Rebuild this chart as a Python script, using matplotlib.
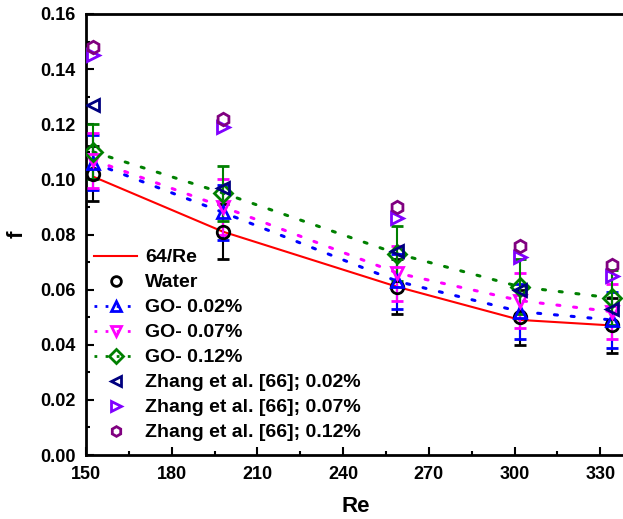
import numpy as np
import matplotlib
matplotlib.use("Agg")
import matplotlib.pyplot as plt
from matplotlib.lines import Line2D
from matplotlib.ticker import MultipleLocator

re_vals = [152.5, 198, 259, 302, 334]

f_theory = [0.101, 0.081, 0.061, 0.049, 0.047]
f_water = [0.102, 0.081, 0.061, 0.050, 0.047]
f_go002 = [0.106, 0.088, 0.063, 0.052, 0.049]
f_go007 = [0.107, 0.090, 0.066, 0.056, 0.052]
f_go012 = [0.110, 0.095, 0.073, 0.061, 0.057]
err_water = [0.010, 0.010, 0.010, 0.010, 0.010]
err_go002 = [0.010, 0.010, 0.010, 0.010, 0.010]
err_go007 = [0.010, 0.010, 0.010, 0.010, 0.010]
err_go012 = [0.010, 0.010, 0.010, 0.010, 0.010]

f_zhang002 = [0.127, 0.097, 0.074, 0.060, 0.053]
f_zhang007 = [0.145, 0.119, 0.086, 0.072, 0.065]
f_zhang012 = [0.148, 0.122, 0.090, 0.076, 0.069]

labels = ["64/Re", "Water", "GO- 0.02%", "GO- 0.07%", "GO- 0.12%",
          "Zhang et al. [66]; 0.02%", "Zhang et al. [66]; 0.07%",
          "Zhang et al. [66]; 0.12%"]

plt.rcParams["font.family"] = ["Liberation Sans", "DejaVu Sans"]
plt.rcParams["font.weight"] = "bold"

fig = plt.figure(figsize=(6.23, 5.19), dpi=100, facecolor="white")
ax = fig.add_axes([86 / 623, 64 / 519, 540 / 623, 441 / 519])

dot = (0, (1, 4.5))
mk = dict(ms=9, mfc="none", mew=2)
eb = dict(capsize=4, elinewidth=1.5, capthick=1.5, ls="none")

ax.plot(re_vals, f_theory, color="red", lw=1.5, zorder=2)
ax.plot(re_vals, f_go002, color="blue", lw=2.2, ls=dot, dash_capstyle="round", zorder=2)
ax.plot(re_vals, f_go007, color="#FF00FF", lw=2.2, ls=dot, dash_capstyle="round", zorder=2)
ax.plot(re_vals, f_go012, color="#008000", lw=2.2, ls=dot, dash_capstyle="round", zorder=2)

series = [
    (f_water, err_water, "o", "black"),
    (f_go002, err_go002, "^", "blue"),
    (f_go007, err_go007, "v", "#FF00FF"),
    (f_go012, err_go012, "D", "#008000"),
]
for vals, err, m, c in series:
    ax.errorbar(re_vals, vals, yerr=err, fmt=m, color=c, zorder=3, **mk, **eb)

ax.plot(re_vals, f_zhang002, "<", color="#000080", ls="none", zorder=4, **mk)
ax.plot(re_vals, f_zhang007, ">", color="#8000FF", ls="none", zorder=4, **mk)
ax.plot(re_vals, f_zhang012, "h", color="#800080", ls="none", zorder=4, **mk)

ax.set_xlim(150, 339)
ax.set_ylim(0, 0.16)
ax.xaxis.set_major_locator(MultipleLocator(30))
ax.xaxis.set_minor_locator(MultipleLocator(15))
ax.yaxis.set_major_locator(MultipleLocator(0.02))
ax.yaxis.set_minor_locator(MultipleLocator(0.01))
ax.yaxis.set_major_formatter(plt.FormatStrFormatter("%.2f"))
ax.tick_params(which="both", direction="in", width=1.5, labelsize=13)
ax.tick_params(which="major", length=6)
ax.tick_params(which="minor", length=3)
ax.tick_params(axis="y", pad=7.5)
ax.tick_params(axis="x", pad=8)
for s in ax.spines.values():
    s.set_linewidth(2)

ax.set_xlabel("Re", fontsize=16, fontweight="bold", labelpad=9)
ax.set_ylabel("f", fontsize=16, fontweight="bold", labelpad=9)

lk = dict(ms=7, mfc="none", mew=2)
handles = [
    Line2D([], [], color="red", lw=1.5),
    Line2D([], [], color="black", marker="o", ls="none", **lk),
    Line2D([], [], color="blue", marker="^", ls=(0, (1, 3)), lw=2, **lk),
    Line2D([], [], color="#FF00FF", marker="v", ls=(0, (1, 3)), lw=2, **lk),
    Line2D([], [], color="#008000", marker="D", ls=(0, (1, 3)), lw=2, **lk),
    Line2D([], [], color="#000080", marker="<", ls="none", **lk),
    Line2D([], [], color="#8000FF", marker=">", ls="none", **lk),
    Line2D([], [], color="#800080", marker="h", ls="none", **lk),
]
ax.legend(handles, labels, loc="lower left", bbox_to_anchor=(-0.01, 0.0),
          frameon=False, fontsize=14, handlelength=2.2, handletextpad=0.4,
          labelspacing=0.38, borderaxespad=0.3)

fig.savefig("out.png", dpi=100)
